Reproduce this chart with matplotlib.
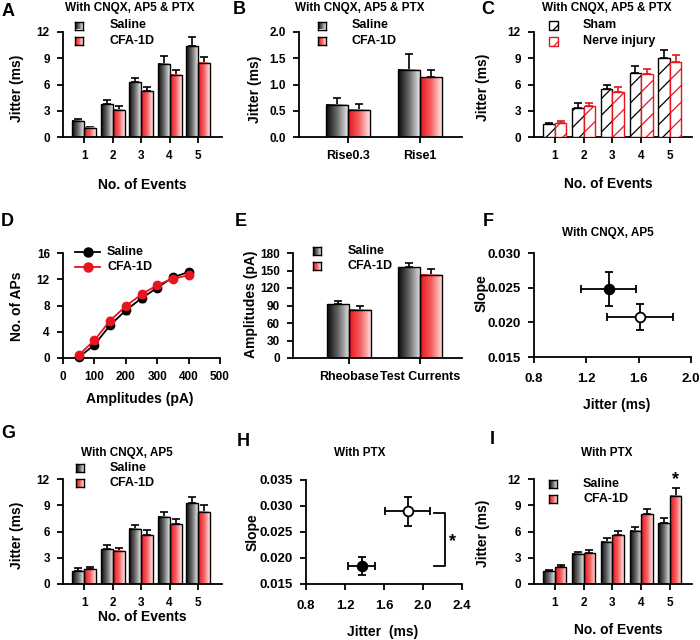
import numpy as np
import matplotlib
matplotlib.use('Agg')
import matplotlib.pyplot as plt
from matplotlib.colors import LinearSegmentedColormap
from matplotlib.patches import Rectangle
from matplotlib.lines import Line2D
from matplotlib.ticker import FormatStrFormatter

plt.rcParams['font.family'] = ['Liberation Sans', 'DejaVu Sans']
plt.rcParams['font.weight'] = 'bold'
plt.rcParams['axes.linewidth'] = 1.3
plt.rcParams['hatch.linewidth'] = 0.9

# ---------------- data ----------------
events = [1, 2, 3, 4, 5]

a_saline = [1.84, 3.75, 6.25, 8.4, 10.4]
a_saline_err = [0.23, 0.5, 0.55, 0.85, 1.0]
a_cfa = [1.07, 3.1, 5.25, 7.13, 8.47]
a_cfa_err = [0.08, 0.4, 0.42, 0.5, 0.63]

b_cats = ['Rise0.3', 'Rise1']
b_saline = [0.61, 1.28]
b_saline_err = [0.14, 0.30]
b_cfa = [0.52, 1.14]
b_cfa_err = [0.11, 0.13]

c_sham = [1.53, 3.37, 5.44, 7.36, 9.0]
c_sham_err = [0.12, 0.46, 0.46, 0.74, 0.9]
c_ni = [1.6, 3.5, 5.17, 7.2, 8.62]
c_ni_err = [0.2, 0.33, 0.5, 0.6, 0.8]

d_amp = [50, 100, 150, 200, 250, 300, 350, 400]
d_saline = [0.1, 2.0, 5.0, 7.26, 9.1, 10.7, 12.3, 13.1]
d_saline_err = [0.1, 0.4, 0.5, 0.5, 0.5, 0.4, 0.3, 0.4]
d_cfa = [0.45, 2.7, 5.7, 7.9, 9.7, 11.1, 12.1, 12.6]
d_cfa_err = [0.15, 0.4, 0.5, 0.5, 0.5, 0.4, 0.3, 0.4]

e_cats = ['Rheobase', 'Test Currents']
e_saline = [92, 156]
e_saline_err = [5.5, 7]
e_cfa = [83, 143]
e_cfa_err = [5.5, 9]

f_jitter = [1.37, 1.61]
f_jitter_err = [0.21, 0.25]
f_slope = [0.0248, 0.0208]
f_slope_err = [0.0025, 0.0019]

g_saline = [1.45, 4.0, 6.34, 7.7, 9.24]
g_saline_err = [0.35, 0.5, 0.38, 0.5, 0.65]
g_cfa = [1.68, 3.78, 5.57, 6.83, 8.24]
g_cfa_err = [0.27, 0.38, 0.6, 0.6, 0.75]

h_jitter = [1.37, 1.845]
h_jitter_err = [0.14, 0.23]
h_slope = [0.0185, 0.029]
h_slope_err = [0.0017, 0.0028]

i_saline = [1.45, 3.44, 4.85, 6.07, 6.95]
i_saline_err = [0.12, 0.26, 0.38, 0.43, 0.55]
i_cfa = [1.91, 3.5, 5.6, 7.98, 10.1]
i_cfa_err = [0.23, 0.4, 0.5, 0.62, 0.86]

# ---------------- helpers ----------------
W, H = 700, 640
fig = plt.figure(figsize=(7, 6.4), dpi=100)

RED = '#e8141e'
cmap_gray = LinearSegmentedColormap.from_list('g', ['#080808', '#6a6a6a', '#e6e6e6'])
cmap_red = LinearSegmentedColormap.from_list('r', [RED, '#f46060', '#ffe6e6'])
GRAD = np.linspace(0, 1, 64).reshape(1, -1)

TICK_FS = 8.5
SC_TICK_FS = 9.5
LAB_FS = 10
TITLE_FS = 8.5
LET_FS = 13
LEG_FS = 9


def ax_px(x0, x1, ytop, ybot):
    return fig.add_axes([x0 / W, 1 - ybot / H, (x1 - x0) / W, (ybot - ytop) / H])


def ftext(x, y, s, **kw):
    fig.text(x / W, 1 - y / H, s, **kw)


def style(ax, fs=TICK_FS):
    for s in ['top', 'right']:
        ax.spines[s].set_visible(False)
    ax.tick_params(direction='out', length=4.5, width=1.3, pad=5, labelsize=fs)
    for lab in ax.get_xticklabels() + ax.get_yticklabels():
        lab.set_fontweight('bold')


def grad_bars(ax, x, h, width, cmap):
    for xi, hi in zip(x, h):
        ax.imshow(GRAD, extent=[xi - width / 2, xi + width / 2, 0, hi], cmap=cmap,
                  aspect='auto', zorder=2, interpolation='bilinear')
    ax.bar(x, h, width, facecolor='none', edgecolor='black', linewidth=1.0, zorder=3)


def up_err(ax, x, h, err, color='black'):
    ax.errorbar(x, h, yerr=[np.zeros(len(h)), err], fmt='none', ecolor=color,
                elinewidth=1.2, capsize=2.8, capthick=1.2, zorder=1)


def grad_square(xc, yc, cmap, size=8):
    a = fig.add_axes([(xc - size / 2) / W, 1 - (yc + size / 2) / H, size / W, size / H])
    a.imshow(GRAD, cmap=cmap, aspect='auto', extent=[0, 1, 0, 1], interpolation='bilinear')
    a.set_xticks([]); a.set_yticks([])
    for s in a.spines.values():
        s.set_linewidth(1.0)


def grouped(ax, x, s1, e1, s2, e2, w):
    x = np.asarray(x, dtype=float)
    grad_bars(ax, x - w / 2, s1, w, cmap_gray)
    grad_bars(ax, x + w / 2, s2, w, cmap_red)
    up_err(ax, x - w / 2, s1, e1)
    up_err(ax, x + w / 2, s2, e2)


# ---------------- A ----------------
axA = ax_px(63, 222, 32, 137)
grouped(axA, events, a_saline, a_saline_err, a_cfa, a_cfa_err, 0.42)
axA.set_xlim(0.26, 5.84); axA.set_ylim(0, 12)
axA.set_yticks([0, 3, 6, 9, 12]); axA.set_xticks(events)
style(axA)

# ---------------- B ----------------
axB = ax_px(299, 462, 32, 137)
grouped(axB, [0, 1], b_saline, b_saline_err, b_cfa, b_cfa_err, 0.305)
axB.set_xlim(-0.68, 1.58); axB.set_ylim(0, 2.0)
axB.set_yticks([0, 0.5, 1.0, 1.5, 2.0]); axB.set_xticks([0, 1])
axB.set_xticklabels(b_cats)
axB.yaxis.set_major_formatter(FormatStrFormatter('%.1f'))
style(axB)
for lab in axB.get_xticklabels():
    lab.set_fontsize(9)

# ---------------- C ----------------
axC = ax_px(534, 692, 32, 137)
xc = np.asarray(events, dtype=float)
wc = 0.4
axC.bar(xc - wc / 2, c_sham, wc, facecolor='white', edgecolor='black', hatch='//', linewidth=1.0, zorder=3)
axC.bar(xc + wc / 2, c_ni, wc, facecolor='white', edgecolor=RED, hatch='//', linewidth=1.0, zorder=3)
up_err(axC, xc - wc / 2, c_sham, c_sham_err, 'black')
up_err(axC, xc + wc / 2, c_ni, c_ni_err, RED)
axC.set_xlim(0.27, 5.77); axC.set_ylim(0, 12)
axC.set_yticks([0, 3, 6, 9, 12]); axC.set_xticks(events)
style(axC)

# ---------------- D ----------------
axD = ax_px(63, 220, 253, 358)
axD.errorbar(d_amp, d_saline, yerr=d_saline_err, color='black', marker='o', ms=6,
             lw=1.3, elinewidth=1.0, capsize=2, zorder=3, clip_on=False)
axD.errorbar(d_amp, d_cfa, yerr=d_cfa_err, color=RED, marker='o', ms=6,
             lw=1.3, elinewidth=1.0, capsize=2, zorder=4, clip_on=False)
axD.set_xlim(0, 500); axD.set_ylim(0, 16)
axD.set_xticks([0, 100, 200, 300, 400, 500]); axD.set_yticks([0, 4, 8, 12, 16])
style(axD)

# ---------------- E ----------------
axE = ax_px(293, 462, 253, 358)
grouped(axE, [0, 1], e_saline, e_saline_err, e_cfa, e_cfa_err, 0.31)
axE.set_xlim(-0.79, 1.59); axE.set_ylim(0, 180)
axE.set_yticks([0, 30, 60, 90, 120, 150, 180]); axE.set_xticks([0, 1])
axE.set_xticklabels(e_cats)
style(axE)
for lab in axE.get_xticklabels():
    lab.set_fontsize(9)

# ---------------- F ----------------
axF = ax_px(534, 691, 253, 357)
for xj, xe, ys, ye, fc in zip(f_jitter, f_jitter_err, f_slope, f_slope_err, ['black', 'white']):
    axF.errorbar([xj], [ys], xerr=[xe], yerr=[ye], fmt='o', ms=7, mfc=fc, mec='black',
                 mew=1.3, ecolor='black', elinewidth=1.3, capsize=3, capthick=1.3, zorder=3)
axF.set_xlim(0.8, 2.0); axF.set_ylim(0.015, 0.030)
axF.set_xticks([0.8, 1.2, 1.6, 2.0]); axF.set_yticks([0.015, 0.020, 0.025, 0.030])
axF.yaxis.set_major_formatter(FormatStrFormatter('%.3f'))
axF.xaxis.set_major_formatter(FormatStrFormatter('%.1f'))
style(axF, SC_TICK_FS)
axF.tick_params(axis='x', pad=7)

# ---------------- G ----------------
axG = ax_px(63, 222, 479, 584)
grouped(axG, events, g_saline, g_saline_err, g_cfa, g_cfa_err, 0.42)
axG.set_xlim(0.26, 5.84); axG.set_ylim(0, 12)
axG.set_yticks([0, 3, 6, 9, 12]); axG.set_xticks(events)
style(axG)

# ---------------- H ----------------
axH = ax_px(306, 462, 480, 584)
for xj, xe, ys, ye, fc in zip(h_jitter, h_jitter_err, h_slope, h_slope_err, ['black', 'white']):
    axH.errorbar([xj], [ys], xerr=[xe], yerr=[ye], fmt='o', ms=7, mfc=fc, mec='black',
                 mew=1.3, ecolor='black', elinewidth=1.3, capsize=3, capthick=1.3, zorder=3)
axH.plot([2.11, 2.23, 2.23, 2.11], [h_slope[1] - 0.0004, h_slope[1] - 0.0004, h_slope[0], h_slope[0]],
         color='black', lw=1.3, clip_on=False)
axH.text(2.27, 0.0232, '*', fontsize=13, fontweight='bold', ha='left', va='center')
axH.set_xlim(0.8, 2.4); axH.set_ylim(0.015, 0.035)
axH.set_xticks([0.8, 1.2, 1.6, 2.0, 2.4]); axH.set_yticks([0.015, 0.020, 0.025, 0.030, 0.035])
axH.yaxis.set_major_formatter(FormatStrFormatter('%.3f'))
axH.xaxis.set_major_formatter(FormatStrFormatter('%.1f'))
style(axH, SC_TICK_FS)
axH.tick_params(axis='x', pad=7)

# ---------------- I ----------------
axI = ax_px(534, 692, 479, 584)
grouped(axI, events, i_saline, i_saline_err, i_cfa, i_cfa_err, 0.4)
axI.text(5.2, 11.9, '*', fontsize=13, fontweight='bold', ha='center', va='center', clip_on=False)
axI.set_xlim(0.27, 5.77); axI.set_ylim(0, 12)
axI.set_yticks([0, 3, 6, 9, 12]); axI.set_xticks(events)
style(axI)

# ---------------- legends ----------------
for (sx, y1, y2, tx) in [(79, 25.5, 41, 110), (322, 25.5, 41, 352), (317, 251, 266, 348),
                         (80, 468, 483, 110), (553, 484, 499, 583)]:
    grad_square(sx, y1, cmap_gray)
    grad_square(sx, y2, cmap_red)
    ftext(tx, y1, 'Saline', fontsize=LEG_FS, fontweight='bold', va='center', ha='left')
    ftext(tx, y2, 'CFA-1D', fontsize=LEG_FS, fontweight='bold', va='center', ha='left')

for yc, ec, lab in [(25.5, 'black', 'Sham'), (41, RED, 'Nerve injury')]:
    fig.add_artist(Rectangle(((553 - 4.5) / W, 1 - (yc + 4.5) / H), 9 / W, 9 / H,
                             transform=fig.transFigure, facecolor='white', edgecolor=ec,
                             hatch='//', linewidth=1.0))
    ftext(583, yc, lab, fontsize=LEG_FS, fontweight='bold', va='center', ha='left')

for yc, col, lab in [(252, 'black', 'Saline'), (267, RED, 'CFA-1D')]:
    fig.add_artist(Line2D([75 / W, 100 / W], [1 - yc / H, 1 - yc / H], transform=fig.transFigure,
                          color=col, lw=1.3))
    fig.add_artist(Line2D([87.5 / W], [1 - yc / H], transform=fig.transFigure, color=col,
                          marker='o', ms=6.5))
    ftext(107, yc, lab, fontsize=LEG_FS, fontweight='bold', va='center', ha='left')

# ---------------- titles ----------------
for x, y, s in [(130, 8, 'With CNQX, AP5 & PTX'), (360, 8, 'With CNQX, AP5 & PTX'),
                (607, 8, 'With CNQX, AP5 & PTX'), (608, 233, 'With CNQX, AP5'),
                (127, 453, 'With CNQX, AP5'), (360, 453, 'With PTX'), (607, 453, 'With PTX')]:
    ftext(x, y, s, fontsize=TITLE_FS, fontweight='bold', ha='center', va='center')

# ---------------- axis labels ----------------
for x, y, s in [(142, 185, 'No. of Events'), (608, 184, 'No. of Events'),
                (140, 399, 'Amplitudes (pA)'), (617, 405, 'Jitter (ms)'),
                (142, 617, 'No. of Events'), (383, 632, 'Jitter  (ms)'),
                (618, 630, 'No. of Events')]:
    ftext(x, y, s, fontsize=LAB_FS, fontweight='bold', ha='center', va='center')

for x, y, s in [(17.5, 88, 'Jitter (ms)'), (255, 89, 'Jitter (ms)'), (483, 87, 'Jitter (ms)'),
                (17, 306, 'No. of APs'), (251, 304, 'Amplitudes (pA)'), (482, 293, 'Slope'),
                (17, 535, 'Jitter (ms)'), (253, 532, 'Slope'), (483, 533, 'Jitter (ms)')]:
    ftext(x, y, s, fontsize=LAB_FS, fontweight='bold', ha='center', va='center', rotation=90)

# ---------------- panel letters ----------------
for x, y, s in [(2, 11, 'A'), (233, 10, 'B'), (481, 10, 'C'), (1, 221, 'D'), (235, 221, 'E'),
                (483, 222, 'F'), (1, 434, 'G'), (237, 441, 'H'), (490, 439, 'I')]:
    ftext(x, y, s, fontsize=LET_FS, fontweight='bold', ha='left', va='center')

fig.savefig('out.png', dpi=100)
